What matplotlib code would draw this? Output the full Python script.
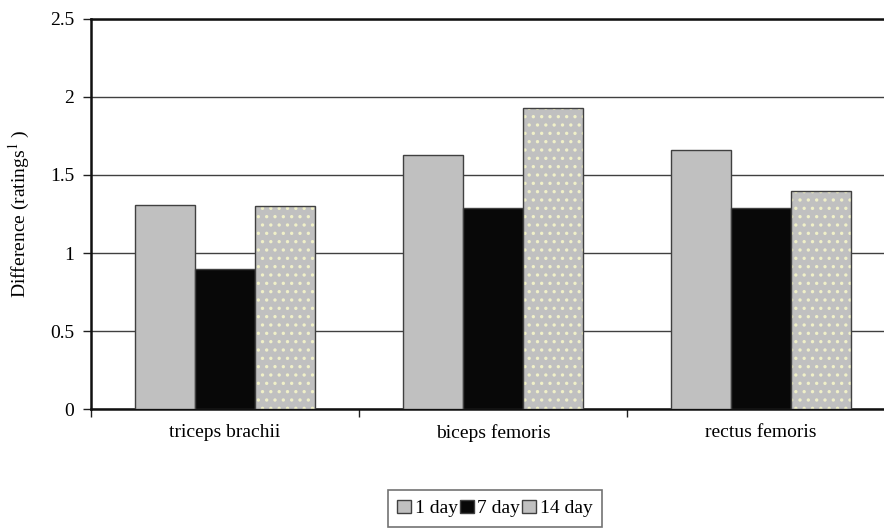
import numpy as np
import matplotlib.pyplot as plt
from matplotlib.patches import Patch

plt.rcParams['font.family'] = ['Liberation Serif', 'DejaVu Serif']
plt.rcParams['mathtext.fontset'] = 'stix'

muscles = ['triceps brachii', 'biceps femoris', 'rectus femoris']
series = ['1 day', '7 day', '14 day']
day1 = [1.31, 1.63, 1.66]
day7 = [0.90, 1.29, 1.29]
day14 = [1.30, 1.93, 1.40]

fig = plt.figure(figsize=(8.84, 5.29), dpi=100)
ax = fig.add_axes([91/884, 120/529, 804/884, 390/529])

x = np.arange(len(muscles))
w = 0.224
edge = '#404040'
fs = 14

ax.bar(x - w, day1, w, color='#c0c0c0', edgecolor=edge, linewidth=1, zorder=3)
ax.bar(x, day7, w, color='#080808', edgecolor=edge, linewidth=1, zorder=3)
# dotted fill, then outline on top
plt.rcParams['hatch.linewidth'] = 1.2
ax.bar(x + w, day14, w, color='#c0c0c0', edgecolor='#f0f0c8', hatch='..', linewidth=0, zorder=3)
ax.bar(x + w, day14, w, fill=False, edgecolor=edge, linewidth=1, zorder=4)

ax.set_xlim(-0.5, 2.5)
ax.set_ylim(0, 2.5)
ax.set_yticks([0, 0.5, 1, 1.5, 2, 2.5])
ax.set_yticklabels(['0', '0.5', '1', '1.5', '2', '2.5'], fontsize=fs)
ax.yaxis.grid(True, color='#404040', linewidth=1, zorder=0)
ax.set_axisbelow(True)

ax.set_xticks([-0.5, 0.5, 1.5])
ax.set_xticklabels(['', '', ''])
ax.set_xticks(x, minor=True)
ax.set_xticklabels(muscles, minor=True, fontsize=fs)
ax.tick_params(axis='x', which='minor', length=0, pad=11)
ax.tick_params(axis='both', which='major', length=6, width=1, color='#202020', direction='out')
ax.tick_params(axis='y', pad=6)

for s in ['top', 'left', 'bottom']:
    ax.spines[s].set_linewidth(1.8)
    ax.spines[s].set_color('#101010')
ax.spines['right'].set_visible(False)

ax.set_ylabel('Difference (ratings$^{1}$ )', fontsize=fs, labelpad=13)

handles = [Patch(facecolor='#c0c0c0', edgecolor=edge),
           Patch(facecolor='#080808', edgecolor=edge),
           Patch(facecolor='#c0c0c0', edgecolor=edge)]
leg = fig.legend(handles, series, loc='upper center', bbox_to_anchor=(495/884, 1 - 490/529),
                 ncol=3, fontsize=fs, frameon=True, fancybox=False, edgecolor='#505050',
                 handlelength=0.7, handleheight=0.7, handletextpad=0.2, columnspacing=0.1,
                 borderpad=0.5, borderaxespad=0)
leg.get_frame().set_linewidth(1.2)

fig.savefig('out.png', dpi=100)
